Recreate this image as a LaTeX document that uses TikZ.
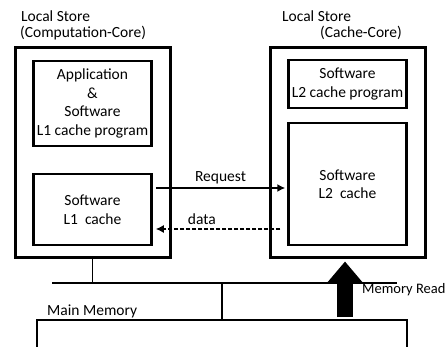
\documentclass[tikz,border=0pt]{standalone}
\usepackage{fontspec}
\setmainfont{Carlito}
\usetikzlibrary{positioning, calc, arrows.meta}
\tikzstyle{Arrow} = [
%solid request / dashed data arrows
line width=1.5pt, -{Latex[length=8pt, width=8pt]}
]
\tikzstyle{BigArrow} = [line width=16pt, -{Triangle[length=21pt, width=34pt]}]

\begin{document}
\begin{tikzpicture}[x=1pt, y=-1pt,
			every node/.style = {font=\fontsize{15.5}{18.5}\selectfont},
			store/.style = {rectangle, draw, line width=3pt, minimum width=155pt, minimum height=210pt, inner sep=0pt},
			part/.style = {rectangle, draw, line width=2.5pt, minimum width=118pt, inner sep=0pt, align=center},
			memory/.style = {rectangle, draw, line width=2pt, minimum width=370pt, minimum height=60pt},
			storetitle/.style = {anchor=west, inner sep=0pt},
			bus/.style = {line width=1.2pt},
		]
		\useasboundingbox (0,0) rectangle (447,347);

		% computation core
		\node[store](LSC) at (92.5,153){};
		\node[part, minimum height=85pt](App) at (92.5,103.5){Application\\\&\\Software\\L1 cache program};
		\node[part, minimum height=71pt](L1) at (92.5,209.5){Software\\L1~~cache};
		\node[storetitle](LSCtitle) at (21,16){Local Store};
		\node[storetitle](LSCsub) at (20,33){(Computation-Core)};

		% cache core
		\node[store](LSK) at (347.5,153){};
		\node[part, minimum height=48pt](L2Prog) at (347.5,84){Software\\L2 cache program};
		\node[part, minimum height=122pt](L2) at (347.5,184){Software\\L2~~cache};
		\node[storetitle](LSKtitle) at (282,16){Local Store};
		\node[storetitle](LSKsub) at (320,33){(Cache-Core)};

		% main memory
		\node[memory](Mem) at (222,350){};
		\node[storetitle](MemTitle) at (47,311){Main Memory};

		\coordinate(BusL) at (52,283);
		\coordinate(BusR) at (397,283);
		\draw[bus](BusL)--(BusR);
		\draw[bus](LSC.south)--(LSC.south |- BusL);
		\draw[bus](Mem.north |- BusL)--(Mem.north);

		\draw[Arrow]([xshift=3pt]L1.east |- 0,188)--node[midway, above]{Request}([xshift=-2pt]L2.west |- 0,188);
		\draw[Arrow, dash pattern=on 4pt off 2pt]([xshift=-7pt]L2.west |- 0,229)--node[pos=0.63, above]{data}([xshift=3pt]L1.east |- 0,229);
		\draw[BigArrow, shorten <=2pt, shorten >=2pt](Mem.north -| 345,0)--(LSK.south -| 345,0);
		\node[storetitle, font=\fontsize{14.5}{17}\selectfont](MemRead) at (362,290){Memory Read};

	\end{tikzpicture}
\end{document}
